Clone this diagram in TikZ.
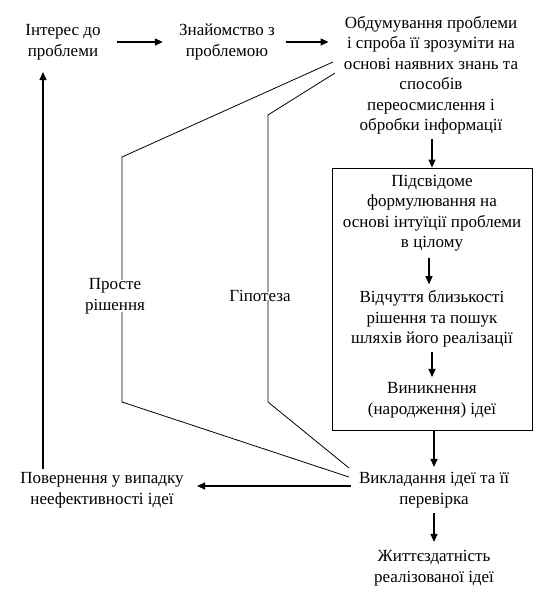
\documentclass[tikz,border=0pt]{standalone}
\usepackage{fontspec}
\setmainfont{Liberation Serif}
\usetikzlibrary{arrows.meta}

\begin{document}
\begin{tikzpicture}[x=1pt,y=-1pt,line width=0.8pt,
  txt/.style={align=center,inner sep=0pt,font=\fontsize{17}{20.5}\selectfont},
  arr/.style={-{Triangle[length=8pt,width=7pt]},line width=1.1pt}]
  \useasboundingbox (0,0) rectangle (553,599);
  % top row
  \node[txt] (interest) at (63,42) {Інтерес до\\проблеми};
  \node[txt] (acquaint) at (227,42) {Знайомство з\\проблемою};
  \node[txt] (think) at (431,75) {Обдумування проблеми\\і спроба її зрозуміти на\\основі наявних знань та\\способів\\переосмислення і\\обробки інформації};
  \draw[arr,shorten <=16pt,shorten >=16pt] (interest) -- (acquaint);
  \draw[arr,shorten <=11pt,shorten >=15pt] (acquaint.east) -- (acquaint.east -| think.west);
  % box
  \node[draw,minimum width=200pt,minimum height=262pt,inner sep=0pt] (box) at (432,299) {};
  \node[txt] (subcon) at (432,213) {Підсвідоме\\формулювання на\\основі інтуїції проблеми\\в цілому};
  \node[txt] (feel) at (432,319) {Відчуття близькості\\рішення та пошук\\шляхів його реалізації};
  \node[txt] (emerge) at (432,400) {Виникнення\\(народження) ідеї};
  \draw[arr,shorten <=4pt] (think.south -| box) -- (box.north);
  \draw[arr,shorten <=6pt,shorten >=6pt] (subcon.south -| 429,0) -- (feel.north -| 429,0);
  \draw[arr,shorten <=4pt,shorten >=5pt] (feel) -- (emerge);
  % bottom
  \node[txt] (present) at (434,490) {Викладання ідеї та її\\перевірка};
  \node[txt] (return) at (102,490) {Повернення у випадку\\неефективності ідеї};
  \node[txt] (viable) at (434,568) {Життєздатність\\реалізованої ідеї};
  \draw[arr,shorten >=5pt] (box.south -| present) -- (present.north);
  \draw[arr,shorten <=5pt,shorten >=8pt] (present.south) -- (viable.north);
  \draw[arr,shorten <=8pt,shorten >=13pt] ([yshift=4pt]present.west) -- ([yshift=4pt]present.west -| return.east);
  \coordinate (up) at (43,0);
  \draw[arr,shorten <=3pt,shorten >=12pt] (return.north -| up) -- (interest.south -| up);
  % side paths
  \node[txt] (simple) at (115,296) {Просте\\рішення};
  \node[txt] (hypo) at (260,296) {Гіпотеза};
  \coordinate (s0) at (333,62);
  \coordinate (s1) at (122,157);
  \coordinate (s2) at (122,402);
  \coordinate (s3) at (349,477);
  \coordinate (h0) at (335,73);
  \coordinate (h1) at (268,115);
  \coordinate (h2) at (268,402);
  \coordinate (h3) at (349,468);
  \draw (s0) -- (s1) -- ([yshift=-2pt]s1 |- simple.north);
  \draw ([yshift=2pt]s1 |- simple.south) -- (s2) -- (s3);
  \draw (h0) -- (h1) -- ([yshift=-2pt]h1 |- hypo.north);
  \draw ([yshift=2pt]h1 |- hypo.south) -- (h2) -- (h3);
\end{tikzpicture}
\end{document}
